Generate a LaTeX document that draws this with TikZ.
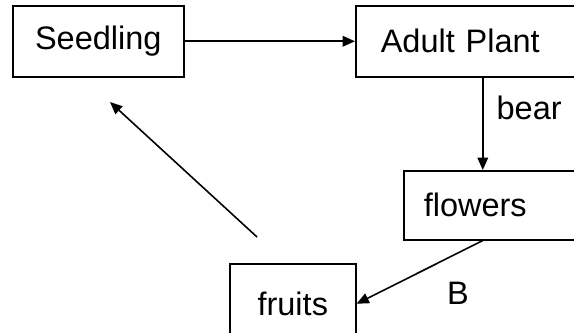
\documentclass[tikz,border=0pt]{standalone}
\usepackage{fontspec}
\setmainfont{Liberation Sans}
\usetikzlibrary{arrows.meta,positioning}

\begin{document}
\begin{tikzpicture}[
        x=0.02cm, y=-0.02cm,
        line width=0.9pt,
        >={Triangle[length=7pt,width=6pt]},
        box/.style={draw, rectangle, anchor=north west, inner ysep=0pt,
            font=\fontsize{18.5}{22}\selectfont},
        lbl/.style={font=\fontsize{18.5}{22}\selectfont},
    ]
        % Frame (boxes on the right and bottom run off the edge)
        \clip (0,0) rectangle (574,333);
        \useasboundingbox (0,0) rectangle (574,333);

        % Stages
        \node[box, minimum width=3.42cm, minimum height=1.42cm] (seed) at (12,5) {Seedling};
        \node[box, minimum width=5.08cm, minimum height=1.42cm, text width=4.08cm,
            inner xsep=0.5cm, align=left] (adult) at (355,5) {Adult Plant};
        \node[box, minimum width=4.4cm, minimum height=1.38cm, text width=3.6cm,
            inner xsep=0.4cm, align=left] (flowers) at (403,170) {flowers};
        \node[box, minimum width=2.52cm, minimum height=1.6cm] (fruits) at (229,263) {fruits};

        % Cycle
        \draw[->] (seed.east) -- (adult.west);
        \draw[->] (adult.south) -- (adult.south |- flowers.north);
        \node[lbl, right] (bear) at (490,108) {bear};
        \draw[->] (adult.south |- flowers.south) -- (fruits.east);
        \node[lbl] (b) at (458,293) {B};

        % Back to the seedling
        \coordinate (from) at (257,237);
        \coordinate (to) at (110,102);
        \draw[->] (from) -- (to);
    \end{tikzpicture}
\end{document}
